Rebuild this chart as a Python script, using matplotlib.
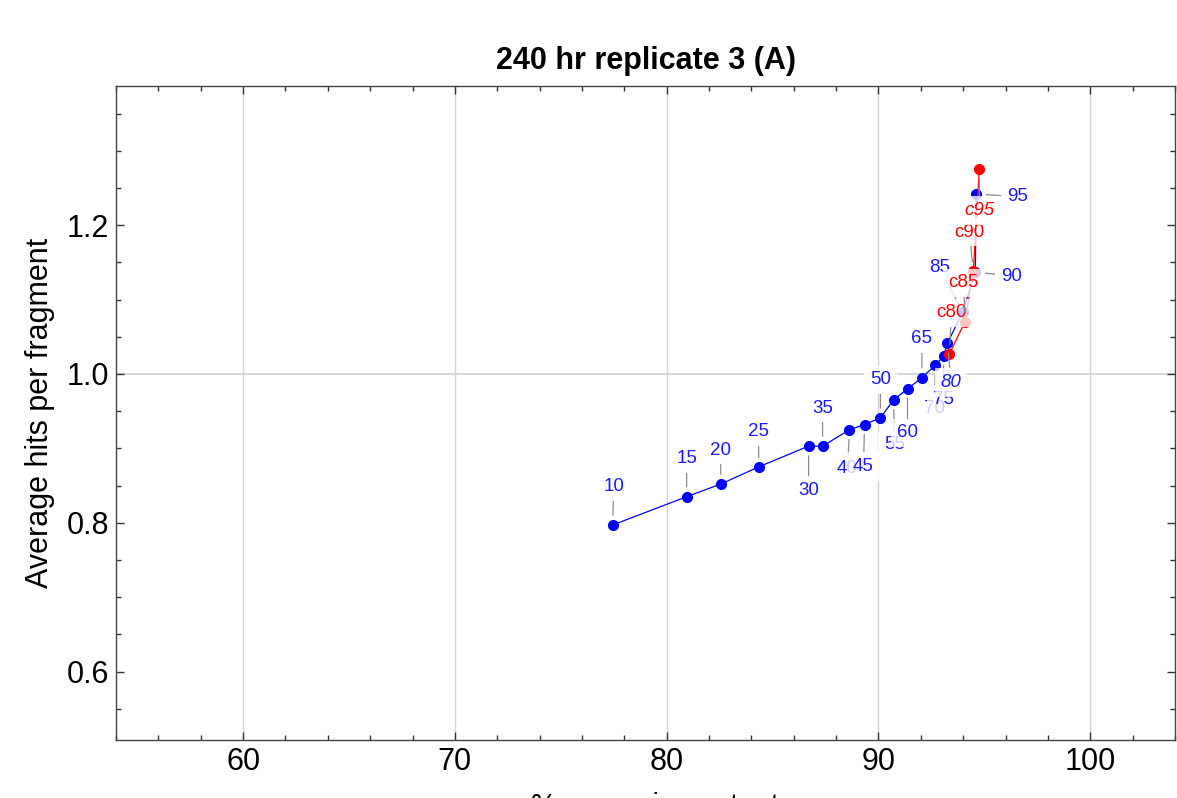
import matplotlib.pyplot as plt
from matplotlib.ticker import MultipleLocator

plt.rcParams['font.family'] = ['Liberation Sans', 'DejaVu Sans']

# blue series: percentile points
pct_labels = ['10', '15', '20', '25', '30', '35', '40', '45', '50',
              '55', '60', '65', '70', '75', '80', '85', '90', '95']
pct_x = [77.45, 80.94, 82.55, 84.34, 86.70, 87.36, 88.63, 89.34, 90.09,
         90.71, 91.37, 92.05, 92.69, 93.07, 93.25, 93.97, 94.57, 94.62]
pct_y = [0.797, 0.835, 0.852, 0.875, 0.903, 0.903, 0.925, 0.932, 0.941,
         0.965, 0.980, 0.995, 1.012, 1.024, 1.041, 1.083, 1.137, 1.242]

# red series: c-points
c_labels = ['c80', 'c85', 'c90', 'c95']
c_x = [93.35, 94.08, 94.48, 94.76]
c_y = [1.027, 1.070, 1.138, 1.276]

# label offsets (pixels) from their points
pct_offsets = [(1, 38), (0, 38), (0, 34), (0, 35), (0, -44), (0, 38), (-2, -39),
               (-1, -42), (0, 38), (1, -45), (0, -44), (0, 39), (-1, -43),
               (0, -43), (4, -39), (-23, 45), (36, -4), (41, -3)]
c_offsets = [(2, 41), (-1, 39), (-4, 39), (0, -42)]
italic_labels = {'80', 'c95'}

fig = plt.figure(figsize=(11.77, 7.98), dpi=100)
ax = fig.add_axes([0.0986, 0.0727, 0.8997, 0.8195])

ax.grid(axis='x', color='#d4d4d4', lw=1, zorder=0)
ax.axhline(1.0, color='#d0d0d0', lw=1.2, zorder=0.5)

ax.plot(pct_x, pct_y, '-o', color='#0000ff', lw=0.9, ms=7, zorder=2)
ax.plot(c_x, c_y, '-o', color='#ff0000', lw=0.9, ms=7, zorder=3)

def add_labels(labels, xs, ys, offsets, color, z):
    for lab, x, y, (dx, dy) in zip(labels, xs, ys, offsets):
        ax.annotate(lab, xy=(x, y), xytext=(dx, dy), textcoords='offset pixels',
                    ha='center', va='center', color=color, fontsize=13.5,
                    fontstyle='italic' if lab in italic_labels else 'normal',
                    bbox=dict(boxstyle='square,pad=0.3', fc='white', ec='none', alpha=0.78),
                    arrowprops=dict(arrowstyle='-', color='#8c8c8c', lw=0.9,
                                    shrinkA=0, shrinkB=7),
                    zorder=z)

add_labels(pct_labels, pct_x, pct_y, pct_offsets, '#1a1aff', 4)
add_labels(c_labels, c_x, c_y, c_offsets, '#ff0000', 5)

ax.set_xlim(54, 104)
ax.set_ylim(0.508, 1.387)
ax.xaxis.set_major_locator(MultipleLocator(10))
ax.xaxis.set_minor_locator(MultipleLocator(2))
ax.yaxis.set_major_locator(MultipleLocator(0.2))
ax.yaxis.set_minor_locator(MultipleLocator(0.05))
ax.yaxis.set_major_formatter(plt.FuncFormatter(lambda v, p: '%.1f' % v))
ax.tick_params(which='both', direction='in', top=True, right=True,
               labelsize=22, color='#333333', width=1)
ax.tick_params(which='major', length=6, pad=5)
ax.tick_params(which='minor', length=3.5)
for s in ax.spines.values():
    s.set_color('#444444')
    s.set_linewidth(1)

ax.set_title('240 hr replicate 3 (A)', fontsize=22, fontweight='bold', pad=12)
ax.set_ylabel('Average hits per fragment', fontsize=22, labelpad=8)
# x label sits mostly below the figure edge, as in the original
ax.set_xlabel('% genes in content', fontsize=21)
ax.xaxis.set_label_coords(0.509, -0.079)

fig.savefig('out.png', dpi=100)
